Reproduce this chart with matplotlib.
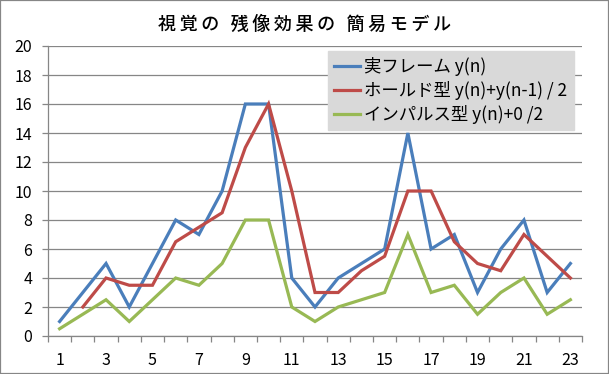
import numpy as np
import matplotlib
matplotlib.use("Agg")
import matplotlib.pyplot as plt
from matplotlib.patches import Rectangle
from matplotlib.ticker import FixedLocator

plt.rcParams['font.family'] = ['Noto Sans CJK JP', 'DejaVu Sans']

frames = list(range(1, 24))
actual = [1, 3, 5, 2, 5, 8, 7, 10, 16, 16, 4, 2, 4, 5, 6, 14, 6, 7, 3, 6, 8, 3, 5]
hold = [np.nan, 2, 4, 3.5, 3.5, 6.5, 7.5, 8.5, 13, 16, 10, 3, 3, 4.5, 5.5, 10, 10, 6.5, 5, 4.5, 7, 5.5, 4]
impulse = [0.5, 1.5, 2.5, 1, 2.5, 4, 3.5, 5, 8, 8, 2, 1, 2, 2.5, 3, 7, 3, 3.5, 1.5, 3, 4, 1.5, 2.5]

labels = ['実フレーム y(n)', 'ホールド型 y(n)+y(n-1) / 2', 'インパルス型 y(n)+0 /2']
title = '視覚の 残像効果の 簡易モデル'
xtick_labels = [str(v) for v in range(1, 24, 2)]
yticks = list(range(0, 21, 2))

W, H = 609, 374
fig = plt.figure(figsize=(W / 100, H / 100), dpi=100)
ax = fig.add_axes([48 / W, 38 / H, (582 - 48) / W, (336 - 46) / H])

colors = ['#4a7ebb', '#be4b48', '#98b954']
for ys, c, lab in zip([actual, hold, impulse], colors, labels):
    ax.plot(frames, ys, color=c, lw=2.3, label=lab, solid_joinstyle='miter')

ax.set_xlim(0.5, 23.5)
ax.set_ylim(0, 20)
ax.set_yticks(yticks)
ax.set_xticks(list(range(1, 24, 2)))
ax.set_xticklabels(xtick_labels)
ax.xaxis.set_minor_locator(FixedLocator(np.arange(0.5, 23.6, 1.0)))

grid_c = '#868686'
ax.grid(axis='y', color=grid_c, lw=0.9)
ax.set_axisbelow(True)
for s in ['top', 'right']:
    ax.spines[s].set_visible(False)
for s in ['left', 'bottom']:
    ax.spines[s].set_color(grid_c)
    ax.spines[s].set_linewidth(0.9)

ax.tick_params(axis='y', which='major', length=4.5, color=grid_c, width=0.9,
               labelsize=11.5, pad=7)
ax.tick_params(axis='x', which='major', length=0, labelsize=11.5, pad=11.5)
ax.tick_params(axis='x', which='minor', length=4.5, color=grid_c, width=0.9)

spaced = '\u2009'.join(title)
fig.text(304 / W, 1 - 25 / H, spaced, ha='center', va='center', fontsize=13,
         color='#000000', fontweight='medium')

leg = ax.legend(loc='upper left', bbox_to_anchor=(328 / W, 1 - 51 / H),
                bbox_transform=fig.transFigure, fontsize=12.5, frameon=True,
                fancybox=False, borderaxespad=0, borderpad=0.35,
                handlelength=1.5, handletextpad=0.25, labelspacing=0.28)
leg.get_frame().set_facecolor('#d9d9d9')
leg.get_frame().set_edgecolor('#d9d9d9')
leg.get_frame().set_alpha(1)

fig.patches.append(Rectangle((0, 0), 1, 1, transform=fig.transFigure,
                             fill=False, ec='#868686', lw=1.6))

fig.savefig('out.png', dpi=100)
